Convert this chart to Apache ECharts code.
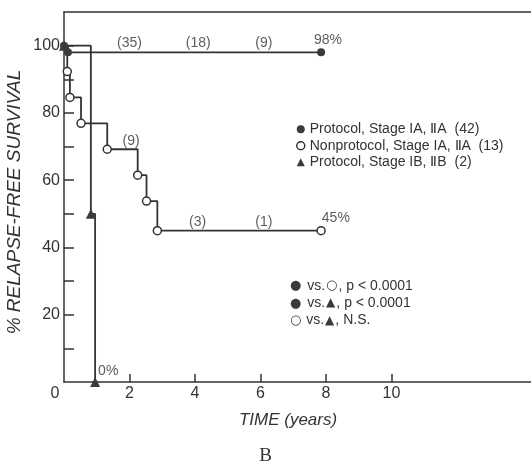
<!DOCTYPE html>
<html>
<head>
<meta charset="utf-8">
<script src="https://cdn.jsdelivr.net/npm/echarts@6/dist/echarts.min.js"></script>
<style>
html, body { margin: 0; padding: 0; background: #fff; }
#chart { width: 531px; height: 464px; }
</style>
</head>
<body>
<div id="chart"></div>
<script type="text/javascript">
// relapse-free survival, panel B
const xTickValues = [2, 4, 6, 8, 10]
const xLabelValues = [0, 2, 4, 6, 8, 10]
const yTickValues = [10, 20, 30, 40, 50, 60, 70, 80, 90, 100]
const yLabelValues = [20, 40, 60, 80, 100]

const seriesNames = [
    'Protocol, Stage IA, ⅡA  (42)',
    'Nonprotocol, Stage IA, ⅡA  (13)',
    'Protocol, Stage IB, ⅡB  (2)'
]
// [years, % relapse-free]
const protocolA = [[0, 100], [0.12, 98], [7.85, 98]]
const nonprotocolA = [[0, 100], [0.1, 92.3], [0.18, 84.6], [0.52, 76.9], [1.32, 69.2], [2.25, 61.5], [2.52, 53.8], [2.85, 45], [7.85, 45]]
const protocolB = [[0, 100], [0.82, 50], [0.95, 0]]

// numbers at risk and end values
const atRiskLabels = [['(35)', 2.0, 100.6], ['(18)', 4.1, 100.6], ['(9)', 6.1, 100.6], ['(9)', 2.05, 71.6], ['(3)', 4.08, 47.6], ['(1)', 6.1, 47.6]]
const endLabels = [['98%', 8.06, 101.6], ['45%', 8.3, 48.8], ['0%', 1.35, 3.2]]

// comparisons: [first, second, result]
const statLines = [['f', 'o', 'p < 0.0001'], ['f', 't', 'p < 0.0001'], ['o', 't', 'N.S.']]

const ink = '#333'
const font = 'Liberation Sans, Arial, sans-serif'

let myChart = echarts.init(document.getElementById('chart'))

function annotation(list) {
    return {
        type: 'scatter',
        symbolSize: 0,
        silent: true,
        data: list.map(function (d) { return { name: d[0], value: [d[1], d[2]] } }),
        label: {
            show: true,
            position: 'inside',
            formatter: '{b}',
            color: ink,
            fontSize: 14,
            fontFamily: font
        }
    }
}

let glyphs = { f: '●', o: '○', t: '▲' }

let setOption = {
    backgroundColor: '#fff',
    animation: false,
    grid: {
        left: 64,
        right: 0,
        top: 12,
        bottom: 82,
        outerBoundsMode: 'none'
    },
    xAxis: [{
        type: 'value',
        min: 0,
        max: 14.26,
        name: 'TIME (years)',
        nameLocation: 'middle',
        nameGap: 30,
        nameMoveOverlap: false,
        nameTextStyle: {
            fontStyle: 'italic',
            fontSize: 17,
            color: ink,
            fontFamily: font,
            padding: [0, 19, 0, 0]
        },
        axisLine: { lineStyle: { color: ink, width: 1.5 } },
        axisTick: { inside: true, length: 8, customValues: xTickValues, lineStyle: { color: ink, width: 1.5 } },
        axisLabel: {
            customValues: xLabelValues,
            margin: 4,
            fontSize: 16,
            color: ink,
            fontFamily: font,
            formatter: function (v) { return v === 0 ? '{z|0}' : String(v) },
            rich: { z: { fontSize: 16, color: ink, fontFamily: font, padding: [0, 18, 0, 0] } }
        },
        splitLine: { show: false }
    }, {
        type: 'value',
        position: 'top',
        min: 0,
        max: 14.26,
        axisLine: { show: true, lineStyle: { color: ink, width: 1.5 } },
        axisTick: { show: false },
        axisLabel: { show: false },
        splitLine: { show: false }
    }],
    yAxis: {
        type: 'value',
        min: 0,
        max: 110,
        interval: 10,
        name: '% RELAPSE-FREE SURVIVAL',
        nameLocation: 'middle',
        nameGap: 40,
        nameMoveOverlap: false,
        nameTextStyle: {
            fontStyle: 'italic',
            fontSize: 19,
            color: ink,
            fontFamily: font,
            padding: [0, 10, 0, 0]
        },
        axisLine: { show: true, lineStyle: { color: ink, width: 1.5 } },
        axisTick: { inside: true, length: 10, customValues: yTickValues, lineStyle: { color: ink, width: 1.5 } },
        axisLabel: { customValues: yLabelValues, margin: 4, fontSize: 16, color: ink, fontFamily: font },
        splitLine: { show: false }
    },
    legend: {
        orient: 'vertical',
        left: 291,
        top: 116,
        itemGap: 0,
        itemWidth: 8,
        itemHeight: 8,
        selectedMode: false,
        textStyle: { color: ink, fontSize: 14, fontFamily: font, lineHeight: 16.5 },
        data: [
            { name: seriesNames[0], icon: 'circle', itemStyle: { color: '#3a3a3a' } },
            { name: seriesNames[1], icon: 'circle', itemStyle: { color: '#fff', borderColor: ink, borderWidth: 1.5 } },
            { name: seriesNames[2], icon: 'triangle', itemStyle: { color: '#3a3a3a' } }
        ]
    },
    series: [{
        name: seriesNames[0],
        type: 'line',
        step: 'end',
        data: protocolA,
        symbol: 'circle',
        symbolSize: 8,
        lineStyle: { color: ink, width: 1.8 },
        itemStyle: { color: '#3a3a3a' },
        z: 4
    }, {
        name: seriesNames[1],
        type: 'line',
        step: 'end',
        data: nonprotocolA.map(function (d, i) { return i === 0 ? { value: d, symbol: 'none' } : d }),
        symbol: 'circle',
        symbolSize: 8,
        lineStyle: { color: ink, width: 1.8 },
        itemStyle: { color: '#fff', borderColor: ink, borderWidth: 1.5 },
        z: 3
    }, {
        name: seriesNames[2],
        type: 'line',
        step: 'end',
        data: protocolB,
        symbol: 'triangle',
        symbolSize: 10,
        lineStyle: { color: ink, width: 1.8 },
        itemStyle: { color: '#3a3a3a' },
        z: 2
    },
    annotation(atRiskLabels),
    annotation(endLabels)],
    graphic: statLines.map(function (s, i) {
        return {
            type: 'text',
            left: 290,
            top: 279 + i * 17.3,
            style: {
                text: '{' + s[0] + '|' + glyphs[s[0]] + '} vs.{' + s[1] + '|' + glyphs[s[1]] + '}, ' + s[2],
                fill: ink,
                fontSize: 14,
                fontFamily: font,
                rich: {
                    f: { fontSize: 13, fill: '#3a3a3a', fontFamily: 'DejaVu Sans', padding: [0, 2, 0, 0] },
                    o: { fontSize: 13, fill: ink, fontFamily: 'DejaVu Sans', padding: [0, 1, 0, 1] },
                    t: { fontSize: 12, fill: '#3a3a3a', fontFamily: 'DejaVu Sans', padding: [0, 1, 0, 1] }
                }
            }
        }
    }).concat([{
        type: 'text',
        left: 'center',
        top: 447,
        style: { text: 'B', fill: ink, fontSize: 19, fontFamily: 'Liberation Serif, serif', textAlign: 'center' }
    }])
}

myChart.setOption(setOption)
</script>
</body>
</html>
